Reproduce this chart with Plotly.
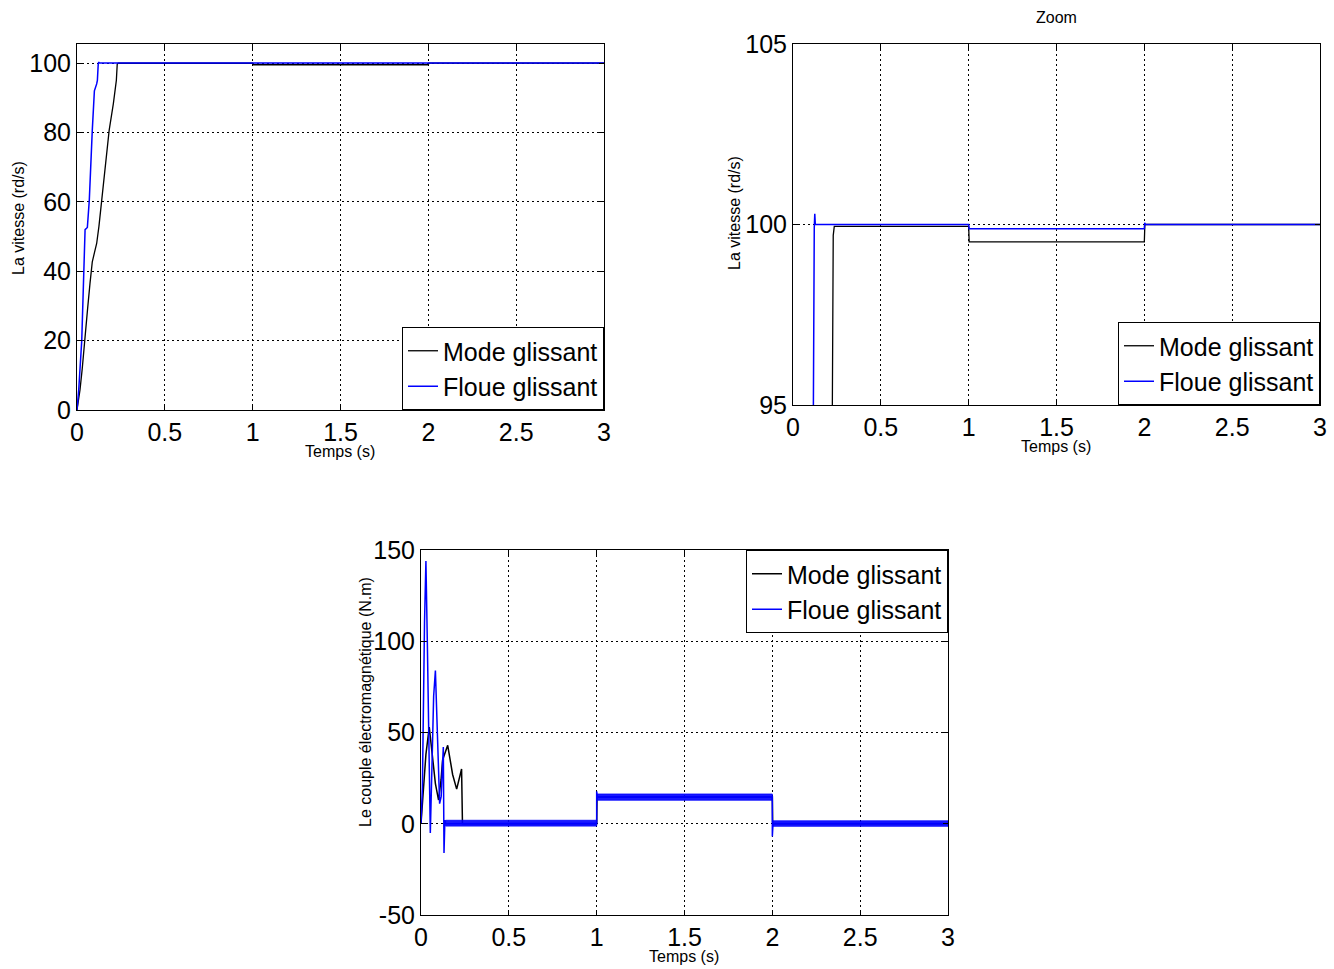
import plotly.graph_objects as go

# ---------------- data ----------------
# Speed, sliding mode (black)
t_speed_mg = [0, 0.017, 0.03, 0.046, 0.06, 0.074, 0.087, 0.1, 0.112, 0.125, 0.141, 0.16, 0.183,
              0.207, 0.224, 0.229, 0.235, 1.0, 1.003, 2.0, 2.003, 3.0]
w_speed_mg = [0, 5.8, 12, 20, 29, 36.5, 42.7, 45.5, 48, 53, 60.5, 70, 80.6,
              88.3, 95, 99.7, 99.95, 99.95, 99.52, 99.52, 100, 100]

# Speed, fuzzy sliding (blue)
t_speed_fg = [0, 0.01, 0.027, 0.036, 0.046, 0.059, 0.07, 0.087, 0.099, 0.112, 0.116, 0.121,
              0.124, 0.127, 0.131, 1.0, 1.003, 2.0, 2.002, 2.006, 3.0]
w_speed_fg = [0, 6, 20, 39, 52, 52.6, 60.5, 80.6, 92, 94, 95, 99.9,
              100.3, 100.0, 100.0, 100.0, 99.88, 99.88, 100.05, 100.0, 100.0]

# Torque, sliding mode (black)
t_torque_mg = [0, 0.013, 0.028, 0.047, 0.066, 0.082, 0.1, 0.114, 0.123, 0.152, 0.18, 0.203,
               0.231, 0.236, 1.0, 1.002, 2.0, 2.002, 3.0]
c_torque_mg = [0, 16, 38, 53, 38, 22, 13, 24, 35, 43, 27, 19,
               30, 0, 0, 14.6, 14.6, 0, 0]

# Torque, fuzzy sliding (blue)
t_torque_fg = [0, 0.008, 0.02, 0.028, 0.036, 0.045, 0.053, 0.062, 0.072, 0.082, 0.09, 0.1,
               0.106, 0.115, 0.123, 0.127, 0.131, 0.136, 0.14, 1.0, 1.0, 1.004, 2.0, 2.0,
               2.004, 3.0]
c_torque_fg = [0, 20, 110, 144, 100, 30, -5, 30, 70, 84, 60, 25,
               11, 15, 38, 42, -16, 2, 0, 0.3, 17.7, 14.6, 14.6, -7,
               0.1, 0.1]

# Chattering band of the fuzzy sliding torque
band_start = [0.14, 1.0, 2.004]
band_end = [1.0, 2.0, 3.0]
band_low = [-1.3, 12.9, -1.4]
band_high = [1.9, 16.3, 1.6]

x_ticks = [0, 0.5, 1, 1.5, 2, 2.5, 3]
x_labels = ["0", "0.5", "1", "1.5", "2", "2.5", "3"]
y1_ticks = [0, 20, 40, 60, 80, 100]
y2_ticks = [95, 100, 105]
y3_ticks = [-50, 0, 50, 100, 150]

name_mg = "Mode glissant"
name_fg = "Floue glissant"

# ---------------- figure ----------------
W, H = 1334, 969
FONT = "Liberation Sans, Arial, Helvetica, sans-serif"
BLACK = "#000000"
BLUE = "#0000ff"

def px_x(p):
    return p / W

def px_y(p):
    return 1 - p / H

fig = go.Figure()

# Plot 1: speed
fig.add_trace(go.Scatter(x=t_speed_mg, y=w_speed_mg, mode="lines", name=name_mg,
                         line=dict(color=BLACK, width=1.3), xaxis="x", yaxis="y", legend="legend"))
fig.add_trace(go.Scatter(x=t_speed_fg, y=w_speed_fg, mode="lines", name=name_fg,
                         line=dict(color=BLUE, width=1.5), xaxis="x", yaxis="y", legend="legend"))

# Plot 2: zoom on speed
fig.add_trace(go.Scatter(x=t_speed_mg, y=w_speed_mg, mode="lines", name=name_mg,
                         line=dict(color=BLACK, width=1.3), xaxis="x2", yaxis="y2", legend="legend2"))
fig.add_trace(go.Scatter(x=t_speed_fg, y=w_speed_fg, mode="lines", name=name_fg,
                         line=dict(color=BLUE, width=1.5), xaxis="x2", yaxis="y2", legend="legend2"))

# Plot 3: torque
fig.add_trace(go.Scatter(x=t_torque_mg, y=c_torque_mg, mode="lines", name=name_mg,
                         line=dict(color=BLACK, width=1.5), xaxis="x3", yaxis="y3", legend="legend3"))
for s, e, lo, hi in zip(band_start, band_end, band_low, band_high):
    fig.add_trace(go.Scatter(x=[s, e, e, s, s], y=[lo, lo, hi, hi, lo], mode="lines",
                             fill="toself", fillcolor="rgba(0,0,255,0.9)",
                             line=dict(color=BLUE, width=0.8),
                             showlegend=False, hoverinfo="skip", xaxis="x3", yaxis="y3"))
fig.add_trace(go.Scatter(x=t_torque_fg, y=c_torque_fg, mode="lines", name=name_fg,
                         line=dict(color=BLUE, width=1.5), xaxis="x3", yaxis="y3", legend="legend3"))

axis_common = dict(
    showline=True, linecolor=BLACK, linewidth=1, mirror="ticks",
    ticks="inside", ticklen=5, tickcolor=BLACK, tickwidth=1,
    showgrid=True, gridcolor=BLACK, gridwidth=1, griddash="2px,3px",
    zeroline=False, automargin=False,
    tickfont=dict(family=FONT, size=25, color=BLACK),
)

def xaxis(dom, anchor):
    return dict(axis_common, domain=dom, anchor=anchor, range=[0, 3],
                tickmode="array", tickvals=x_ticks, ticktext=x_labels, ticklabelstandoff=0)

def yaxis(dom, anchor, rng, ticks):
    return dict(axis_common, domain=dom, anchor=anchor, range=rng,
                tickmode="array", tickvals=ticks, ticktext=[str(v) for v in ticks],
                ticklabelstandoff=0)

dom1x = [px_x(77), px_x(604)]
dom1y = [px_y(410), px_y(44)]
dom2x = [px_x(793), px_x(1320)]
dom2y = [px_y(405), px_y(44)]
dom3x = [px_x(421), px_x(948)]
dom3y = [px_y(915), px_y(550)]

legend_common = dict(
    bgcolor="white", bordercolor=BLACK, borderwidth=1,
    font=dict(family=FONT, size=25, color=BLACK),
    itemwidth=30, tracegroupgap=0, xanchor="right",
)

annotations = []
def label(text, x, y, size=16, angle=0):
    annotations.append(dict(text=text, x=px_x(x), y=px_y(y), xref="paper", yref="paper",
                            showarrow=False, textangle=angle, xanchor="center", yanchor="middle",
                            font=dict(family=FONT, size=size, color=BLACK)))

label("Temps (s)", 340, 451)
label("La vitesse (rd/s)", 18, 218, angle=-90)
label("Temps (s)", 1056, 446)
label("La vitesse (rd/s)", 735, 213, angle=-90)
label("Zoom", 1056, 17)
label("Temps (s)", 684, 956)
label("Le couple électromagnétique (N.m)", 365, 702, angle=-90)

fig.update_layout(
    width=W, height=H,
    margin=dict(l=0, r=0, t=0, b=0, autoexpand=False),
    paper_bgcolor="white", plot_bgcolor="white",
    font=dict(family=FONT, color=BLACK),
    xaxis=xaxis(dom1x, "y"),
    yaxis=yaxis(dom1y, "x", [0, 105.5], y1_ticks),
    xaxis2=xaxis(dom2x, "y2"),
    yaxis2=yaxis(dom2y, "x2", [95, 105], y2_ticks),
    xaxis3=xaxis(dom3x, "y3"),
    yaxis3=yaxis(dom3y, "x3", [-50, 150], y3_ticks),
    legend=dict(legend_common, x=px_x(604), y=px_y(410), yanchor="bottom"),
    legend2=dict(legend_common, x=px_x(1320), y=px_y(405), yanchor="bottom"),
    legend3=dict(legend_common, x=px_x(948), y=px_y(550), yanchor="top"),
    annotations=annotations,
    showlegend=True,
)

fig.write_html("out.html")
